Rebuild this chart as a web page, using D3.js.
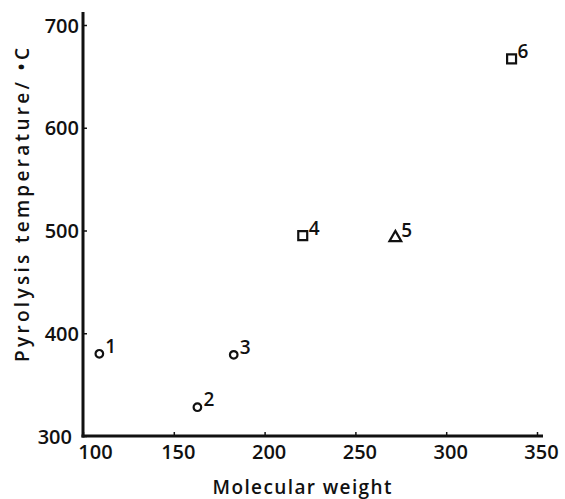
<!DOCTYPE html>
<html>
<head>
<meta charset="utf-8">
<script src="https://cdn.jsdelivr.net/npm/d3@7"></script>
<style>
  body { margin: 0; background: #fff; }
  text { font-family: "Open Sans", sans-serif; font-weight: 600; fill: #111; }
</style>
</head>
<body>
<svg id="chart"></svg>
<script>
// Data
const point_ids = ["1", "2", "3", "4", "5", "6"];
const molecular_weight = [109, 163, 183, 221, 272, 336];
const pyrolysis_temp = [380, 328, 379, 495, 493, 667];
const point_shapes = ["circle", "circle", "circle", "square", "triangle", "square"];
const x_ticks = [100, 150, 200, 250, 300, 350];
const y_ticks = [300, 400, 500, 600, 700];

const width = 565, height = 499;
const margins = { top: 25, right: 28, bottom: 63, left: 83 };

const svg = d3.select("#chart")
    .attr("width", width)
    .attr("height", height);

// Scales
const x_scale = d3.scaleLinear()
    .domain([100, 350])
    .range([margins.left, width - margins.right]);
const y_scale = d3.scaleLinear()
    .domain([300, 700])
    .range([height - margins.bottom, margins.top]);

// X axis with small inward ticks
const x_axis = svg.append("g")
    .attr("transform", `translate(0, ${y_scale(300)})`)
    .call(d3.axisBottom(x_scale).tickValues(x_ticks).tickSize(-4).tickPadding(8).tickSizeOuter(0));
x_axis.select(".domain").remove();
x_axis.append("line")
    .attr("x1", x_scale(100) - 1.5).attr("x2", x_scale(350) + 6)
    .attr("stroke", "#111").attr("stroke-width", 3);
x_axis.selectAll(".tick line").attr("stroke", "#111").attr("stroke-width", 1.5);
x_axis.selectAll(".tick text")
    .style("font-size", "20px")
    .attr("dy", "0.75em")
    .attr("dx", d => d === 100 ? 12 : 4);

// Y axis with small inward ticks
const y_axis = svg.append("g")
    .attr("transform", `translate(${x_scale(100)}, 0)`)
    .call(d3.axisLeft(y_scale).tickValues(y_ticks).tickSize(-4).tickPadding(4).tickSizeOuter(0));
y_axis.select(".domain").remove();
y_axis.append("line")
    .attr("y1", 12).attr("y2", y_scale(300) + 1.5)
    .attr("stroke", "#111").attr("stroke-width", 3);
y_axis.selectAll(".tick line").attr("stroke", "#111").attr("stroke-width", 1.5);
y_axis.selectAll(".tick text")
    .style("font-size", "20px")
    .attr("dy", "0.35em")
    .attr("dx", d => d === 300 ? -7 : 0);

// Axis titles
svg.append("text")
    .attr("x", 302)
    .attr("y", 494)
    .attr("text-anchor", "middle")
    .attr("textLength", 179)
    .attr("lengthAdjust", "spacing")
    .style("font-size", "19px")
    .text("Molecular weight");

svg.append("text")
    .attr("transform", `translate(29, 205) rotate(-90)`)
    .attr("text-anchor", "middle")
    .attr("textLength", 314)
    .attr("lengthAdjust", "spacing")
    .style("font-size", "19px")
    .text("Pyrolysis temperature/ •C");

// Points
const points = point_ids.map((id, i) => ({
    id: id, mw: molecular_weight[i], temp: pyrolysis_temp[i], shape: point_shapes[i]
}));

const symbol_map = { circle: d3.symbolCircle, square: d3.symbolSquare, triangle: d3.symbolTriangle };
const size_map = { circle: 45, square: 80, triangle: 60 };

const marks = svg.selectAll(".point")
    .data(points)
    .enter()
    .append("g")
    .attr("class", "point")
    .attr("transform", d => `translate(${x_scale(d.mw)}, ${y_scale(d.temp)})`);

marks.append("path")
    .attr("d", d => d3.symbol().type(symbol_map[d.shape]).size(size_map[d.shape])())
    .attr("fill", "none")
    .attr("stroke", "#111")
    .attr("stroke-width", 2.2);

marks.append("text")
    .attr("x", 6)
    .attr("y", -1)
    .style("font-size", "19px")
    .text(d => d.id);
</script>
</body>
</html>
